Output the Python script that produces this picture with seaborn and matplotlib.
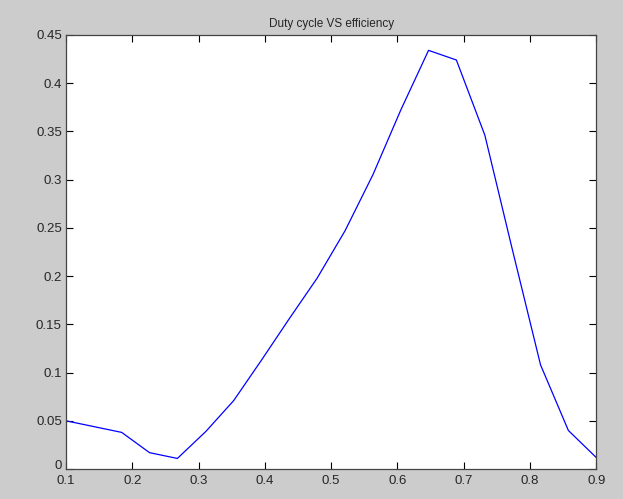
import numpy as np
import pandas as pd
import seaborn as sns
import matplotlib.pyplot as plt
import matplotlib.transforms as mtransforms

duty_cycle = [0.100, 0.142, 0.184, 0.226, 0.268, 0.311, 0.353, 0.395, 0.437, 0.479,
              0.521, 0.563, 0.605, 0.647, 0.689, 0.732, 0.774, 0.816, 0.858, 0.900]
efficiency = [0.050, 0.044, 0.038, 0.017, 0.011, 0.039, 0.071, 0.113, 0.156, 0.198,
              0.247, 0.305, 0.372, 0.434, 0.424, 0.346, 0.226, 0.108, 0.040, 0.012]

x_ticks = [0.1, 0.2, 0.3, 0.4, 0.5, 0.6, 0.7, 0.8, 0.9]
y_ticks = [0, 0.05, 0.1, 0.15, 0.2, 0.25, 0.3, 0.35, 0.4, 0.45]
y_tick_labels = ['0', '0.05', '0.1', '0.15', '0.2', '0.25', '0.3', '0.35', '0.4', '0.45']

df = pd.DataFrame({'duty': duty_cycle, 'eff': efficiency})

sns.set_style('ticks')
plt.rcParams['font.family'] = ['Liberation Sans', 'DejaVu Sans']
plt.rcParams['xtick.direction'] = 'in'
plt.rcParams['ytick.direction'] = 'in'

fig = plt.figure(figsize=(6.23, 4.99), dpi=100, facecolor='#cccccc')
ax = fig.add_axes([0.106, 0.06, 0.851, 0.87])
ax.set_facecolor('white')

sns.lineplot(data=df, x='duty', y='eff', ax=ax, color='#0000ff', linewidth=0.9)

ax.set_xlim(0.1, 0.9)
ax.set_ylim(0, 0.45)
ax.set_xticks(x_ticks)
ax.set_xticklabels([str(t) for t in x_ticks])
ax.set_yticks(y_ticks)
ax.set_yticklabels(y_tick_labels)
ax.tick_params(axis='both', which='both', top=True, right=True, length=5,
               width=0.8, color='black', labelsize=9.5)
ax.tick_params(axis='x', pad=4)
ax.tick_params(axis='y', pad=3)
for sp in ax.spines.values():
    sp.set_visible(True)
    sp.set_color('#444444')
    sp.set_linewidth(0.9)

# lift the "0" y label a touch so it clears the "0.1" x label
zero_lbl = ax.get_yticklabels()[0]
zero_lbl.set_transform(zero_lbl.get_transform() +
                       mtransforms.ScaledTranslation(0, 3 / 72, fig.dpi_scale_trans))

ax.set_xlabel('')
ax.set_ylabel('')
ax.set_title('Duty cycle VS efficiency', fontsize=8.5, pad=6)

fig.savefig('out.png', dpi=100, facecolor=fig.get_facecolor())
